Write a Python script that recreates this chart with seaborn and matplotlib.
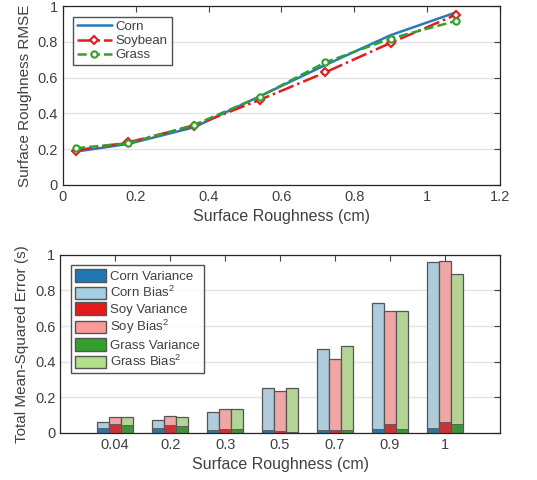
import numpy as np
import pandas as pd
import seaborn as sns
import matplotlib.pyplot as plt
from matplotlib.patches import Patch

# top panel data
rough_cm = [0.036, 0.18, 0.36, 0.54, 0.72, 0.9, 1.08]
corn_rmse = [0.186, 0.229, 0.322, 0.495, 0.670, 0.838, 0.966]
soy_rmse = [0.192, 0.238, 0.331, 0.475, 0.629, 0.795, 0.953]
grass_rmse = [0.205, 0.233, 0.335, 0.493, 0.685, 0.819, 0.918]

# bottom panel data
rough_labels = ["0.04", "0.2", "0.3", "0.5", "0.7", "0.9", "1"]
corn_total = [0.062, 0.075, 0.118, 0.250, 0.471, 0.732, 0.959]
corn_var = [0.030, 0.030, 0.019, 0.015, 0.015, 0.022, 0.028]
soy_total = [0.088, 0.096, 0.137, 0.236, 0.418, 0.687, 0.964]
soy_var = [0.053, 0.047, 0.024, 0.011, 0.019, 0.049, 0.064]
grass_total = [0.088, 0.088, 0.137, 0.250, 0.488, 0.687, 0.895]
grass_var = [0.047, 0.040, 0.024, 0.008, 0.015, 0.021, 0.051]

crops = ["Corn", "Soy", "Grass"]
dark = ["#1f78b4", "#e31a1c", "#33a02c"]
light = ["#a6cee3", "#fb9a99", "#b2df8a"]
txt = "#404040"

sns.set_style("white")
plt.rcParams["font.family"] = ["Liberation Sans", "DejaVu Sans"]
plt.rcParams["text.color"] = txt
plt.rcParams["axes.labelcolor"] = txt
plt.rcParams["xtick.color"] = txt
plt.rcParams["ytick.color"] = txt
plt.rcParams["mathtext.fontset"] = "custom"
plt.rcParams["mathtext.rm"] = "Liberation Sans"

fig = plt.figure(figsize=(5.37, 4.8), dpi=100)
ax1 = fig.add_axes([0.117, 0.615, 0.814, 0.372])
ax2 = fig.add_axes([0.112, 0.098, 0.819, 0.371])

# top: RMSE lines
sns.lineplot(x=rough_cm, y=corn_rmse, ax=ax1, color="#2a7ab9", lw=1.8, label="Corn")
sns.lineplot(x=rough_cm, y=soy_rmse, ax=ax1, color="#e41a1c", lw=1.8, linestyle="-.",
             marker="D", markersize=4.5, markerfacecolor="white", markeredgecolor="#e41a1c",
             markeredgewidth=1.5, label="Soybean")
sns.lineplot(x=rough_cm, y=grass_rmse, ax=ax1, color="#33a02c", lw=1.8, linestyle="--",
             marker="o", markersize=4.5, markerfacecolor="white", markeredgecolor="#33a02c",
             markeredgewidth=1.5, label="Grass")
ax1.set_xlim(0, 1.2)
ax1.set_ylim(0, 1)
ax1.set_xticks(np.arange(0, 1.21, 0.2))
ax1.set_xticklabels(["0", "0.2", "0.4", "0.6", "0.8", "1", "1.2"])
ax1.set_yticks(np.arange(0, 1.01, 0.2))
ax1.set_yticklabels(["0", "0.2", "0.4", "0.6", "0.8", "1"])
ax1.set_xlabel("Surface Roughness (cm)", fontsize=11.5)
ax1.set_ylabel("Surface Roughness RMSE", fontsize=11)
leg1 = ax1.legend(loc="upper left", fontsize=9.5, frameon=True, fancybox=False,
                  edgecolor="#262626", handlelength=2.6, borderaxespad=0.8,
                  labelspacing=0.15, handletextpad=0.3, borderpad=0.3)
leg1.get_frame().set_linewidth(1.0)

# bottom: stacked bars (total drawn first, variance on top of it)
df = pd.DataFrame({
    "rough": rough_labels * 3,
    "crop": np.repeat(crops, len(rough_labels)),
    "total": corn_total + soy_total + grass_total,
    "var": corn_var + soy_var + grass_var,
})
sns.barplot(data=df, x="rough", y="total", hue="crop", hue_order=crops, order=rough_labels,
            palette=light, width=0.66, edgecolor="#555555", linewidth=0.9, ax=ax2, legend=False)
sns.barplot(data=df, x="rough", y="var", hue="crop", hue_order=crops, order=rough_labels,
            palette=dark, width=0.66, edgecolor="#555555", linewidth=0.6, ax=ax2, legend=False)
ax2.set_xlim(-1, 7)
ax2.set_ylim(0, 1)
ax2.set_yticks(np.arange(0, 1.01, 0.2))
ax2.set_yticklabels(["0", "0.2", "0.4", "0.6", "0.8", "1"])
ax2.set_xlabel("Surface Roughness (cm)", fontsize=11.5)
ax2.set_ylabel("Total Mean-Squared Error (s)", fontsize=11)

handles = []
for c, d, l in zip(["Corn", "Soy", "Grass"], dark, light):
    handles.append(Patch(facecolor=d, edgecolor="#555555", label=c + " Variance"))
    handles.append(Patch(facecolor=l, edgecolor="#555555", label=c + " Bias$^2$"))
leg2 = ax2.legend(handles=handles, loc="upper left", fontsize=9.5, frameon=True, fancybox=False,
                  edgecolor="#262626", handlelength=2.4, handleheight=1.1, borderaxespad=0.8,
                  labelspacing=0.15, handletextpad=0.3, borderpad=0.3)
leg2.get_frame().set_linewidth(1.0)

for ax in (ax1, ax2):
    ax.grid(axis="y", color="#e3e3e3", lw=1.0)
    ax.set_axisbelow(True)
    ax.tick_params(direction="in", top=True, right=True, length=4, width=0.8,
                   labelsize=10.5, colors=txt)
    for s in ax.spines.values():
        s.set_color("#262626")
        s.set_linewidth(0.9)

fig.savefig("out.png", dpi=100)
